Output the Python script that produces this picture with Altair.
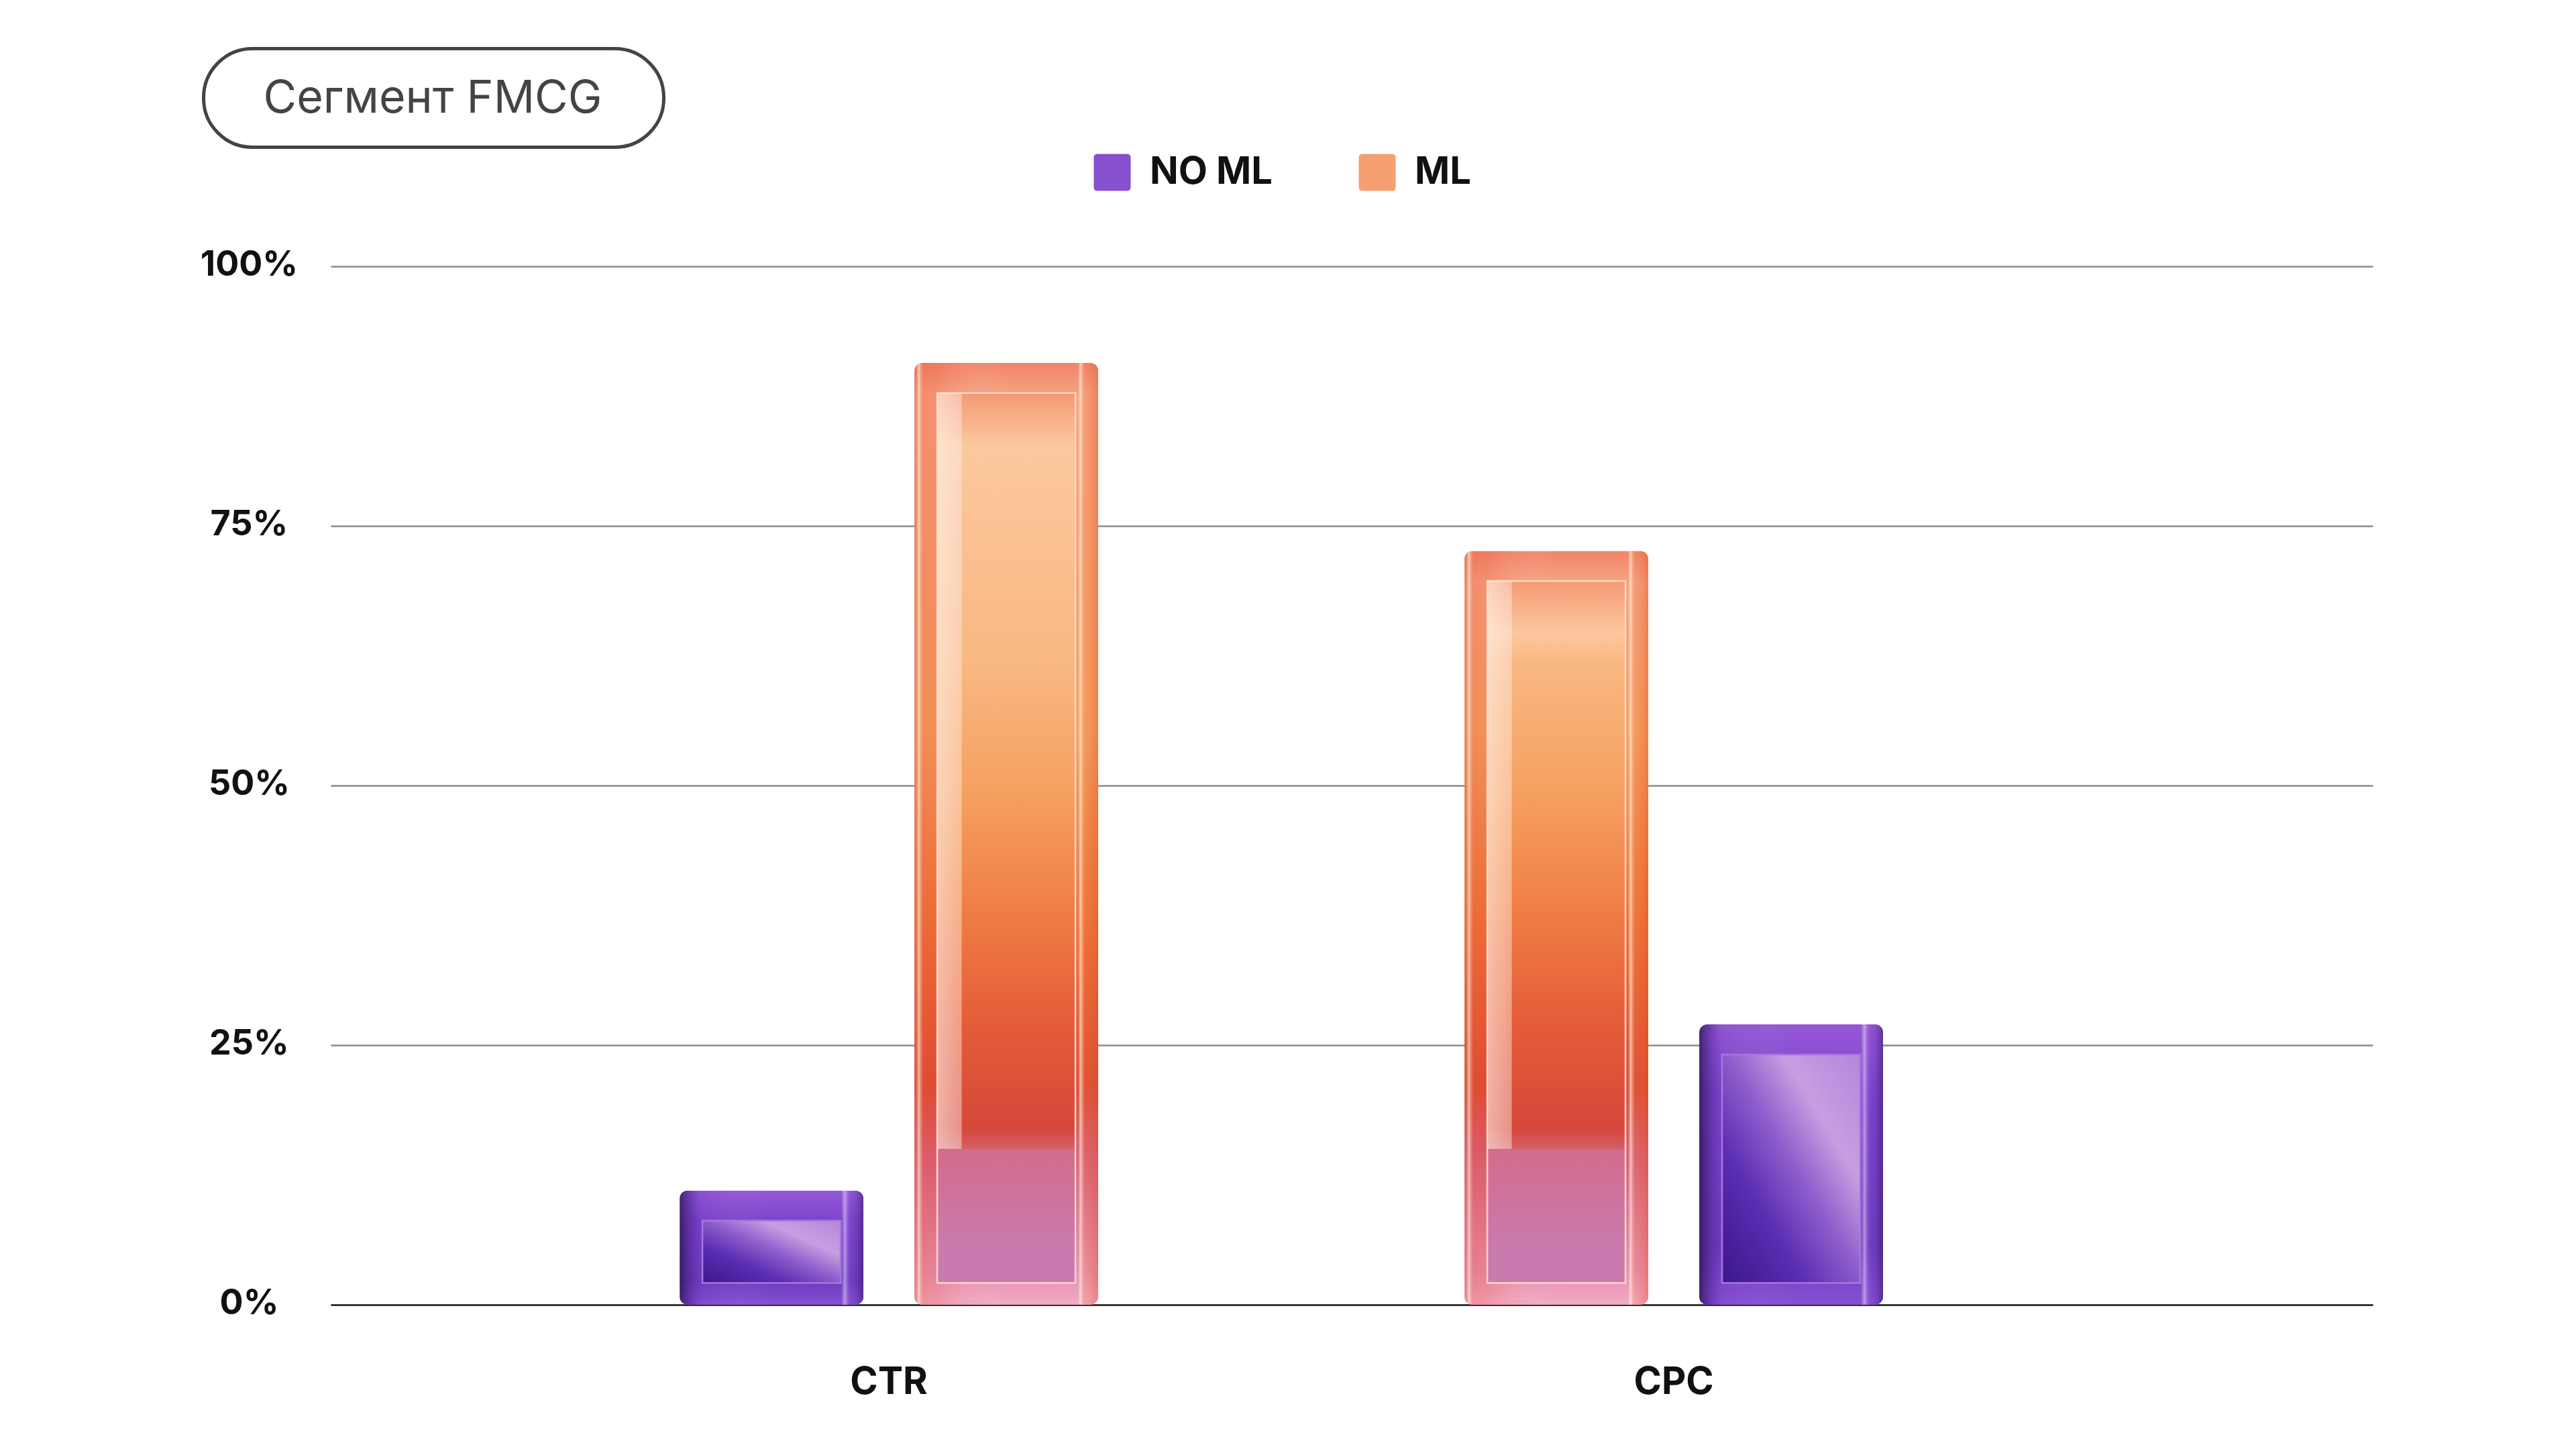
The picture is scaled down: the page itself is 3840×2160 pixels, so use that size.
import altair as alt
import pandas as pd

# ---- data ----
metrics = ["CTR", "CPC"]
series_names = ["NO ML", "ML"]
order_by_metric = {"CTR": ["NO ML", "ML"], "CPC": ["ML", "NO ML"]}
values_no_ml = [11.0, 27.0]
values_ml = [90.7, 72.6]
y_ticks = [0, 25, 50, 75, 100]
title_text = ["Сегмент FMCG"]

rows = []
for i, m in enumerate(metrics):
    for s, v in (("NO ML", values_no_ml[i]), ("ML", values_ml[i])):
        slot = order_by_metric[m].index(s)
        rows.append({"metric": m, "series": s, "value": v, "slot": slot, "fslot": slot})
df = pd.DataFrame(rows)
title_df = pd.DataFrame({"t": title_text})
slots = [0, 1]

W, H = 3044, 1548
FONT = "Inter"
CAP_T = 2.9   # glass top cap thickness (axis units, styling)
CAP_B = 2.1   # glass bottom rim thickness (axis units, styling)

x_axis = alt.Axis(title=None, labelFont=FONT, labelFontSize=56, labelFontWeight="bold",
                  labelColor="#111111", ticks=False, domain=True, domainColor="#222222",
                  domainWidth=2.5, labelPadding=132, labelBaseline="alphabetic",
                  grid=False, labelAngle=0)
x_enc = alt.X("metric:N", sort=metrics,
              scale=alt.Scale(domain=metrics, paddingInner=0, paddingOuter=0.3009,
                              align=0.351),
              axis=x_axis)
# outer glass block and its inner face use two offset scales with the same centres
xoff = alt.XOffset("slot:O", scale=alt.Scale(domain=slots, paddingInner=0.2171,
                                             paddingOuter=0.78))
xoff_face = alt.XOffset("fslot:O", scale=alt.Scale(domain=slots, paddingInner=0.4114,
                                                   paddingOuter=0.877))
y_scale = alt.Scale(domain=[0, 100], nice=False)
y_axis = alt.Axis(title=None, values=y_ticks, labelExpr="datum.value + '%'",
                  labelFont=FONT, labelFontSize=52, labelFontWeight="bold",
                  labelColor="#111111", labelAlign="center", labelPadding=122,
                  labelBaseline="middle", labelOffset=-3, ticks=False, domain=False,
                  grid=True, gridColor="#8a8a8a", gridWidth=2.5)


def yq(field):
    return alt.Y(field, scale=y_scale, axis=y_axis)


def grad(stops, x1=0, y1=0, x2=0, y2=1):
    return alt.LinearGradient(
        gradient="linear",
        stops=[alt.GradientStop(color=c, offset=round(o, 4)) for o, c in stops],
        x1=x1, y1=y1, x2=x2, y2=y2)


def level_grad(top, bottom, level_stops):
    """vertical gradient whose colours are pinned to axis levels"""
    out = []
    for lvl, col in level_stops:
        off = (top - lvl) / (top - bottom)
        if 0 <= off <= 1 and (not out or off > out[-1][0]):
            out.append((off, col))
    if out[0][0] > 0:
        out.insert(0, (0, out[0][1]))
    if out[-1][0] < 1:
        out.append((1, out[-1][1]))
    return grad(out)


def ml_layers(m, v):
    flt = f"datum.metric == '{m}' && datum.series == 'ML'"
    b = alt.Chart(df).transform_filter(flt).transform_calculate(
        face_top=f"datum.value - {CAP_T}", face_bot=f"{CAP_B}",
        strip_bot="15")
    outer_fill = level_grad(v, 0, [
        (v, "#f08468"), (v - 3, "#f7a282"), (55, "#f6a060"), (36, "#ee7038"),
        (21, "#dc4a34"), (14, "#d8607c"), (3, "#e890b2"), (0, "#f0aac4")])
    face_fill = level_grad(v - CAP_T, CAP_B, [
        (v - CAP_T, "#f59a74"), (v - 8, "#fbc89e"), (62, "#f9b882"), (50, "#f6a262"),
        (38, "#f07e44"), (27, "#e45c38"), (17, "#d6483a"), (15.2, "#d45c62"),
        (14.8, "#d46c8c"), (6, "#c97aae"), (0, "#e4a2cc")])
    rim = grad([(0, "rgba(200,50,30,0.35)"), (0.025, "rgba(255,232,212,0.7)"),
                (0.05, "rgba(230,80,50,0.25)"), (0.12, "rgba(230,80,50,0.2)"),
                (0.5, "rgba(255,255,255,0)"), (0.89, "rgba(255,255,255,0)"),
                (0.905, "rgba(255,235,215,0.7)"), (0.93, "rgba(240,120,60,0.15)"),
                (1, "rgba(220,80,40,0.4)")], x1=0, y1=0, x2=1, y2=0)
    strip = grad([(0, "rgba(255,255,255,0)"), (0.125, "rgba(255,255,255,0)"),
                  (0.13, "rgba(255,244,238,0.6)"), (0.255, "rgba(255,235,228,0.45)"),
                  (0.26, "rgba(255,255,255,0)"), (1, "rgba(255,255,255,0)")],
                 x1=0, y1=0, x2=1, y2=0)
    return [
        b.mark_bar(fill=outer_fill, cornerRadius=12).encode(
            x=x_enc, xOffset=xoff, y=yq("value:Q")),
        b.mark_bar(fill=rim, cornerRadius=12).encode(
            x=x_enc, xOffset=xoff, y=yq("value:Q")),
        b.mark_bar(fill=face_fill, stroke="#fcd9c4", strokeWidth=2.5).encode(
            x=x_enc, xOffset=xoff_face, y=yq("face_top:Q"), y2="face_bot:Q"),
        b.mark_bar(fill=strip).encode(
            x=x_enc, xOffset=xoff, y=yq("face_top:Q"), y2="strip_bot:Q"),
    ]


def noml_layers(m, v):
    flt = f"datum.metric == '{m}' && datum.series == 'NO ML'"
    b = alt.Chart(df).transform_filter(flt).transform_calculate(
        face_top=f"datum.value - {CAP_T}", face_bot=f"{CAP_B}")
    outer_fill = grad([(0, "#9558d6"), (0.25, "#7e44cc"), (0.8, "#6e3cc0"), (1, "#8650d2")])
    rim = grad([(0, "rgba(25,8,60,0.65)"), (0.06, "rgba(60,25,120,0.4)"),
                (0.12, "rgba(90,40,170,0.1)"), (0.5, "rgba(255,255,255,0)"),
                (0.88, "rgba(255,255,255,0)"), (0.9, "rgba(235,215,255,0.55)"),
                (0.93, "rgba(120,70,200,0.1)"), (1, "rgba(40,12,90,0.5)")],
               x1=0, y1=0, x2=1, y2=0)
    face_fill = grad([(0, "#3c168a"), (0.3, "#5a2db2"), (0.52, "#8f5fcc"),
                      (0.72, "#c79ee2"), (1, "#b586dc")], x1=0, y1=1, x2=1, y2=0)
    return [
        b.mark_bar(fill=outer_fill, cornerRadius=12).encode(
            x=x_enc, xOffset=xoff, y=yq("value:Q")),
        b.mark_bar(fill=rim, cornerRadius=12).encode(
            x=x_enc, xOffset=xoff, y=yq("value:Q")),
        b.mark_bar(fill=face_fill, stroke="#a676e0", strokeWidth=2.5).encode(
            x=x_enc, xOffset=xoff_face, y=yq("face_top:Q"), y2="face_bot:Q"),
    ]


rounded_sq = ("M -0.8,-1 L 0.8,-1 Q 1,-1 1,-0.8 L 1,0.8 Q 1,1 0.8,1 L -0.8,1 "
              "Q -1,1 -1,0.8 L -1,-0.8 Q -1,-1 -0.8,-1 Z")

legend_layer = alt.Chart(df).mark_bar(opacity=0).encode(
    x=x_enc, xOffset=xoff, y=yq("value:Q"),
    color=alt.Color("series:N",
                    scale=alt.Scale(domain=series_names, range=["#8650cf", "#f6a072"]),
                    legend=alt.Legend(orient="none", legendX=1137, legendY=-168,
                                      direction="horizontal", title=None,
                                      symbolType=rounded_sq, symbolSize=3025,
                                      symbolStrokeWidth=0, symbolOpacity=1,
                                      labelFont=FONT, labelFontSize=56,
                                      labelFontWeight="bold", labelColor="#111111",
                                      labelOffset=28, columnPadding=128,
                                      labelLimit=600, padding=0))
)

bar_layers = []
for i, m in enumerate(metrics):
    bar_layers += ml_layers(m, values_ml[i])
    bar_layers += noml_layers(m, values_no_ml[i])

pill = alt.Chart(title_df).mark_rect(fill="white", stroke="#444444", strokeWidth=5,
                                     cornerRadius=73).encode(
    x=alt.value(-189.5), x2=alt.value(496.5), y=alt.value(-324.5), y2=alt.value(-177.5))
pill_text = alt.Chart(title_df).mark_text(font=FONT, fontSize=68, fontWeight=400,
                                          color="#444444", align="center",
                                          baseline="alphabetic").encode(
    x=alt.value(152), y=alt.value(-229), text="t:N")

chart = alt.layer(legend_layer, *bar_layers, pill, pill_text).resolve_scale(
    xOffset="independent"
).properties(
    width=W, height=H, background="white",
    padding={"left": 298, "top": 70, "right": 10, "bottom": 10},
).configure_view(strokeWidth=0)

chart.save("out.html", embed_options={"renderer": "svg", "actions": False})
